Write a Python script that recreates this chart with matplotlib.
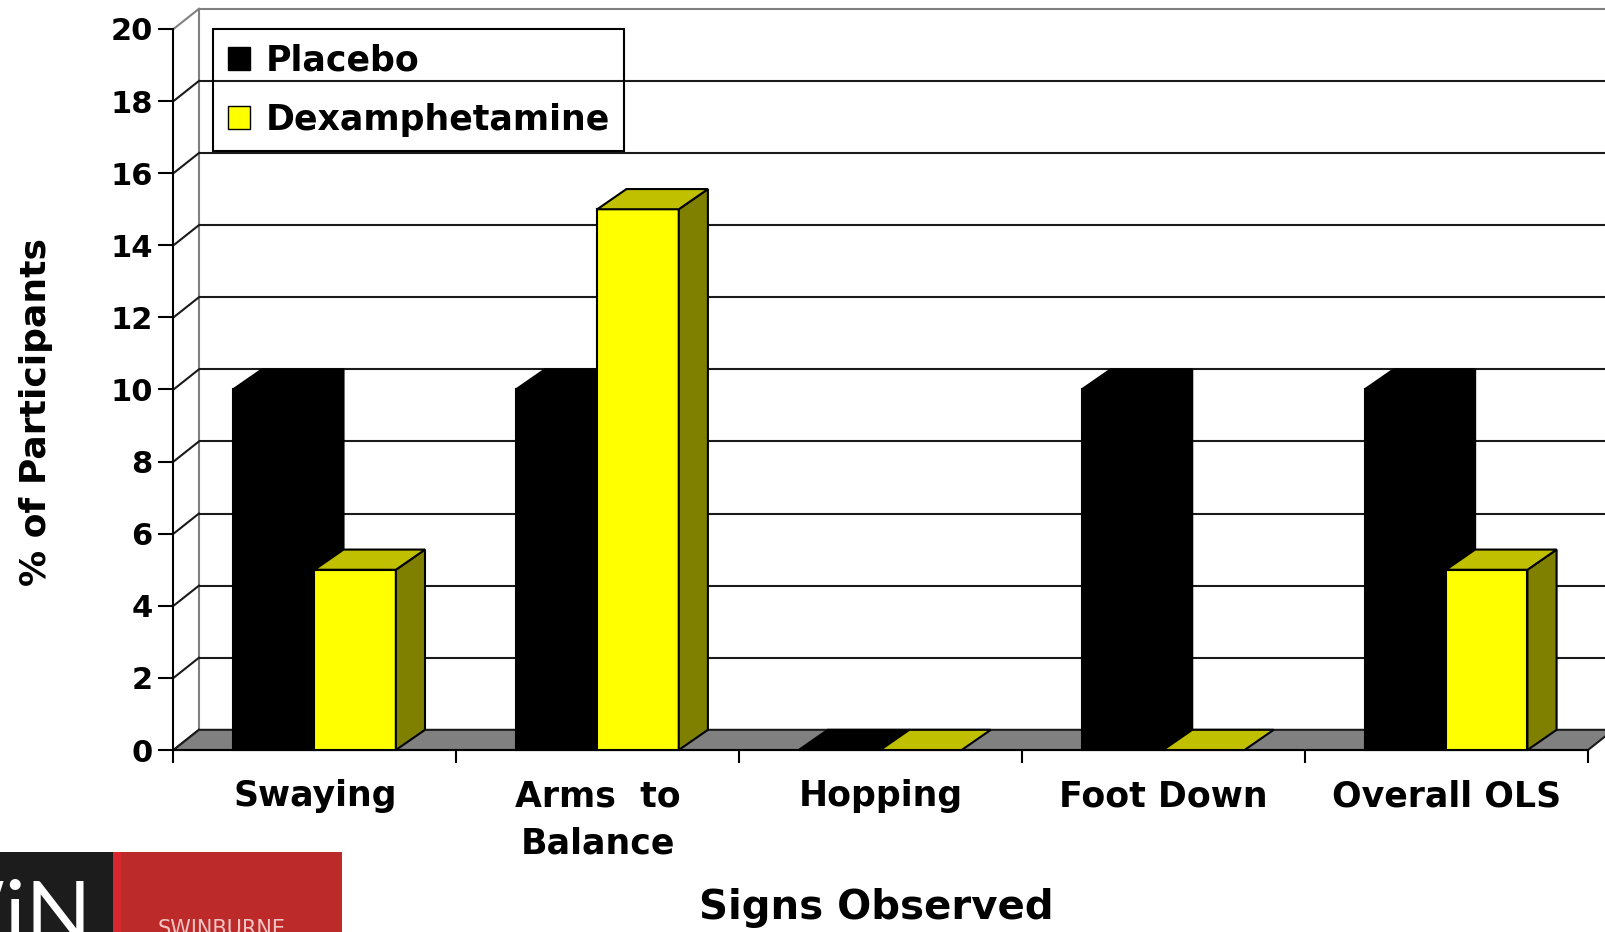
import matplotlib.pyplot as plt
from matplotlib.patches import Polygon, Patch, Rectangle

categories = ['Swaying', 'Arms  to\nBalance', 'Hopping', 'Foot Down', 'Overall OLS']
placebo = [10, 10, 0, 10, 10]
dexamphetamine = [5, 15, 0, 0, 5]
yticks = list(range(0, 21, 2))
series_names = ['Placebo', 'Dexamphetamine']

plt.rcParams['font.family'] = 'DejaVu Sans'
plt.rcParams['font.weight'] = 'bold'

W, H = 1606, 932
fig = plt.figure(figsize=(W / 100, H / 100), dpi=100)
ax = fig.add_axes([173.5 / W, 182 / H, 1414.5 / W, 721 / H])
n = len(categories)
ax.set_xlim(0, n)
ax.set_ylim(0, 20)

# oblique offsets used to fake the 3-D look
wall_dx, bar_dx, dy = 0.09, 0.103, 0.56
bar_w, bar_off = 0.288, 0.21

# back wall: border, gridlines and the diagonals on the side wall
ax.plot([wall_dx, wall_dx], [dy, 20 + dy], color='#808080', lw=1.5, clip_on=False, zorder=1)
ax.plot([wall_dx, n + 1], [20 + dy, 20 + dy], color='#808080', lw=1.5, clip_on=False, zorder=1)
ax.hlines([v + dy for v in yticks[1:-1]], wall_dx, n + 1, colors='#1a1a1a', lw=1.5,
          clip_on=False, zorder=1)
for v in yticks:
    c = '#808080' if v == yticks[-1] else '#1a1a1a'
    ax.plot([0, wall_dx], [v, v + dy], color=c, lw=1.5, clip_on=False, zorder=1)

# floor
ax.add_patch(Polygon([(0, 0), (n, 0), (n + wall_dx, dy), (wall_dx, dy)],
                     facecolor='#808080', edgecolor='#1a1a1a', lw=1.5, clip_on=False, zorder=2))


def column(x0, h, front, top, side, edge, z):
    x1 = x0 + bar_w
    if h > 0:
        ax.add_patch(Polygon([(x0, 0), (x1, 0), (x1, h), (x0, h)], facecolor=front,
                             edgecolor=edge, lw=1.5, zorder=z, clip_on=False))
        ax.add_patch(Polygon([(x1, 0), (x1 + bar_dx, dy), (x1 + bar_dx, h + dy), (x1, h)],
                             facecolor=side, edgecolor=edge, lw=1.5, zorder=z, clip_on=False))
    ax.add_patch(Polygon([(x0, h), (x1, h), (x1 + bar_dx, h + dy), (x0 + bar_dx, h + dy)],
                         facecolor=top, edgecolor=edge, lw=1.5, zorder=z, clip_on=False))


for i in range(n):
    column(i + bar_off, placebo[i], 'black', 'black', 'black', 'black', 3 + 2 * i)
    column(i + bar_off + bar_w, dexamphetamine[i], '#FFFF00', '#C0C000', '#808000', 'black', 4 + 2 * i)

# axes, ticks and labels
for s in ['top', 'right']:
    ax.spines[s].set_visible(False)
for s in ['left', 'bottom']:
    ax.spines[s].set_linewidth(1.5)
    ax.spines[s].set_zorder(2.5)

ax.set_yticks(yticks)
ax.tick_params(axis='y', length=10.8, width=1.5, pad=4.3, labelsize=22)
ax.set_xticks(range(n + 1))
ax.set_xticklabels([])
ax.tick_params(axis='x', which='major', length=9.4, width=1.5)
ax.set_xticks([i + 0.5 for i in range(n)], minor=True)
ax.set_xticklabels(categories, minor=True)
ax.tick_params(axis='x', which='minor', length=0, pad=21, labelsize=25)
for lbl in ax.get_xticklabels(minor=True):
    lbl.set_linespacing(1.5)

fig.text(36 / W, 1 - 412 / H, '% of Participants', rotation=90, ha='center', va='center',
         fontsize=26)
fig.text(876 / W, 1 - 919 / H, 'Signs Observed', ha='center', va='baseline', fontsize=29)

handles = [Patch(facecolor='black', edgecolor='black'),
           Patch(facecolor='#FFFF00', edgecolor='black')]
leg = ax.legend(handles, series_names, loc='upper left', bbox_to_anchor=(213 / W, 1 - 29 / H),
                bbox_transform=fig.transFigure, fontsize=25, frameon=True, fancybox=False,
                edgecolor='black', facecolor='none', framealpha=1, borderaxespad=0,
                handlelength=0.66, handleheight=0.66, handletextpad=0.43, borderpad=0.42,
                labelspacing=0.72)
leg.get_frame().set_linewidth(1.5)
leg.set_zorder(20)

# corner logo
fig.add_artist(Rectangle((0, 0), 113 / W, 80 / H, transform=fig.transFigure,
                         facecolor='#1c1c1c', edgecolor='none'))
fig.add_artist(Rectangle((113 / W, 0), 229 / W, 80 / H, transform=fig.transFigure,
                         facecolor='#BD2A2A', edgecolor='none'))
fig.add_artist(Rectangle((113 / W, 0), 8 / W, 80 / H, transform=fig.transFigure,
                         facecolor='#D8262E', edgecolor='none'))
fig.text(92 / W, -10 / H, 'SWiN', color='white', fontsize=62, ha='right', va='baseline',
         family=['Lato', 'DejaVu Sans'], fontweight='normal')
fig.text(158 / W, 1 - 919 / H, 'SWINBURNE', color='#F2C4C4', fontsize=15, ha='left', va='top',
         fontweight='normal')

fig.savefig('out.png', dpi=100)
